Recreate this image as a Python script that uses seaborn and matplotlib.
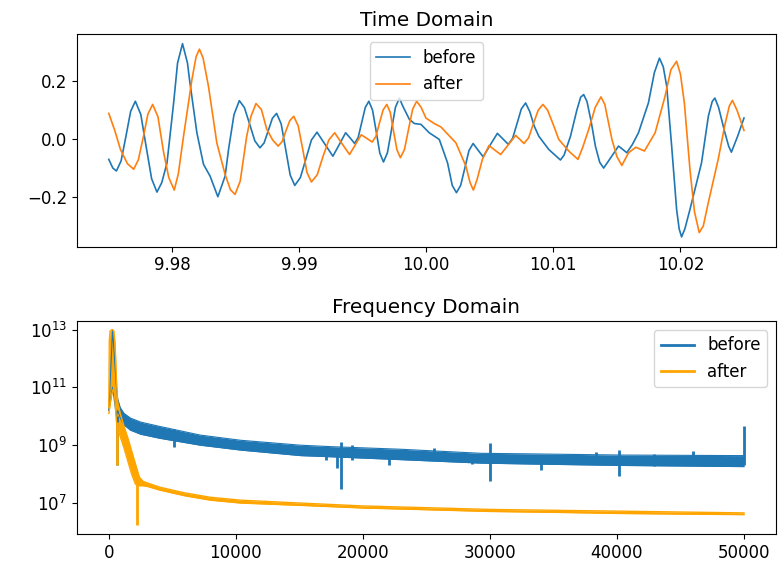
import numpy as np
import matplotlib
matplotlib.use("Agg")
import matplotlib.pyplot as plt
from matplotlib.lines import Line2D
import seaborn as sns

plt.rcParams['font.size'] = 12

# ------------------------
# Time domain samples
# ------------------------
before_t = [9.97503, 9.97535, 9.97563, 9.97600, 9.97638, 9.97675, 9.97712, 9.97755,
            9.97797, 9.97840, 9.97882, 9.97920, 9.97961, 9.98013, 9.98044, 9.98083,
            9.98122, 9.98138, 9.98196, 9.98248, 9.98300, 9.98361, 9.98418, 9.98446,
            9.98488, 9.98530, 9.98570, 9.98611, 9.98652, 9.98692, 9.98725, 9.98758,
            9.98790, 9.98823, 9.98859, 9.98895, 9.98930, 9.98966, 9.99010, 9.99054,
            9.99097, 9.99141, 9.99204, 9.99266, 9.99316, 9.99366, 9.99402, 9.99437,
            9.99465, 9.99493, 9.99521, 9.99549, 9.99578, 9.99607, 9.99635, 9.99664,
            9.99695, 9.99727, 9.99758, 9.99789, 9.99815, 9.99868, 9.99907, 9.99959,
            10.00024, 10.00103, 10.00168, 10.00205, 10.00238, 10.00271, 10.00304, 10.00336,
            10.00369, 10.00408, 10.00448, 10.00504, 10.00560, 10.00603, 10.00646, 10.00680,
            10.00714, 10.00748, 10.00782, 10.00815, 10.00850, 10.00886, 10.00965, 10.01056,
            10.01085, 10.01135, 10.01185, 10.01215, 10.01239, 10.01265, 10.01298, 10.01331,
            10.01365, 10.01396, 10.01455, 10.01513, 10.01545, 10.01578, 10.01620, 10.01670,
            10.01748, 10.01795, 10.01835, 10.01865, 10.01892, 10.01931, 10.01970, 10.01990,
            10.02009, 10.02035, 10.02075, 10.02166, 10.02220, 10.02250, 10.02271, 10.02300,
            10.02350, 10.02380, 10.02401, 10.02450, 10.02500]
before_v = [-0.070, -0.100, -0.110, -0.075, 0.010, 0.096, 0.131, 0.085,
            -0.026, -0.137, -0.183, -0.150, -0.082, 0.125, 0.263, 0.330,
            0.263, 0.206, 0.022, -0.087, -0.128, -0.199, -0.128, -0.033,
            0.085, 0.133, 0.109, 0.052, -0.006, -0.030, -0.013, 0.030,
            0.072, 0.089, 0.053, -0.036, -0.124, -0.160, -0.133, -0.068,
            -0.003, 0.024, -0.018, -0.059, -0.019, 0.022, 0.004, -0.015,
            0.006, 0.058, 0.110, 0.131, 0.100, 0.026, -0.048, -0.079,
            -0.047, 0.032, 0.110, 0.142, 0.115, 0.068, 0.054, 0.051,
            0.022, -0.001, -0.082, -0.160, -0.185, -0.160, -0.100, -0.040,
            -0.015, -0.038, -0.061, -0.020, 0.020, 0.001, -0.018, 0.003,
            0.053, 0.104, 0.125, 0.095, 0.045, 0.010, -0.036, -0.072,
            -0.055, 0.010, 0.100, 0.145, 0.154, 0.130, 0.060, -0.024,
            -0.080, -0.100, -0.062, -0.024, -0.035, -0.047, -0.020, 0.022,
            0.125, 0.230, 0.280, 0.250, 0.183, -0.024, -0.243, -0.310,
            -0.338, -0.310, -0.243, -0.082, 0.080, 0.130, 0.142, 0.110,
            0.022, -0.025, -0.045, 0.010, 0.073]

after_t = [9.97503, 9.97550, 9.97595, 9.97650, 9.97699, 9.97736, 9.97775, 9.97811,
           9.97848, 9.97890, 9.97934, 9.97975, 9.98018, 9.98050, 9.98091, 9.98157,
           9.98190, 9.98216, 9.98245, 9.98287, 9.98353, 9.98418, 9.98460, 9.98496,
           9.98537, 9.98588, 9.98620, 9.98661, 9.98704, 9.98745, 9.98792, 9.98835,
           9.98866, 9.98896, 9.98927, 9.98958, 9.98993, 9.99031, 9.99062, 9.99097,
           9.99143, 9.99188, 9.99234, 9.99280, 9.99338, 9.99397, 9.99443, 9.99489,
           9.99532, 9.99575, 9.99604, 9.99632, 9.99661, 9.99690, 9.99717, 9.99743,
           9.99770, 9.99797, 9.99829, 9.99861, 9.99893, 9.99925, 9.99960, 9.99998,
           10.00063, 10.00116, 10.00234, 10.00312, 10.00345, 10.00371, 10.00400, 10.00442,
           10.00494, 10.00540, 10.00586, 10.00645, 10.00704, 10.00737, 10.00769, 10.00806,
           10.00843, 10.00881, 10.00918, 10.00955, 10.01000, 10.01043, 10.01121, 10.01194,
           10.01230, 10.01278, 10.01330, 10.01375, 10.01405, 10.01461, 10.01500, 10.01539,
           10.01592, 10.01649, 10.01717, 10.01801, 10.01879, 10.01925, 10.01970, 10.02000,
           10.02031, 10.02075, 10.02110, 10.02148, 10.02180, 10.02219, 10.02297, 10.02350,
           10.02385, 10.02409, 10.02445, 10.02500]
after_v = [0.089, 0.030, -0.036, -0.085, -0.104, -0.071, 0.008, 0.087,
           0.120, 0.077, -0.045, -0.133, -0.176, -0.120, 0.010, 0.206,
           0.285, 0.311, 0.280, 0.183, -0.013, -0.122, -0.175, -0.191,
           -0.145, 0.010, 0.077, 0.123, 0.102, 0.035, -0.003, -0.024,
           -0.009, 0.028, 0.064, 0.079, 0.046, -0.040, -0.115, -0.148,
           -0.123, -0.060, -0.003, 0.022, -0.016, -0.053, -0.019, 0.015,
           0.003, -0.010, 0.009, 0.055, 0.101, 0.120, 0.093, 0.028,
           -0.037, -0.064, -0.036, 0.034, 0.103, 0.131, 0.110, 0.073,
           0.054, 0.042, -0.013, -0.093, -0.150, -0.176, -0.140, -0.070,
           -0.022, -0.038, -0.053, -0.020, 0.013, -0.001, -0.015, 0.005,
           0.053, 0.100, 0.120, 0.100, 0.050, -0.001, -0.041, -0.070,
           -0.030, 0.033, 0.110, 0.146, 0.120, -0.001, -0.060, -0.091,
           -0.047, -0.028, -0.041, 0.022, 0.148, 0.240, 0.269, 0.225,
           0.125, -0.105, -0.250, -0.323, -0.300, -0.220, -0.070, 0.050,
           0.115, 0.134, 0.100, 0.030]

# ------------------------
# Frequency domain envelopes (log10 of magnitude)
# ------------------------
before_f = [0, 300, 600, 700, 900, 1200, 1700, 2500, 4000, 7200, 10400,
            15100, 17500, 23000, 29300, 33200, 40300, 50000]
before_hi = [10.2, 13.0, 11.0, 10.6, 10.3, 10.1, 9.94, 9.8, 9.65, 9.35, 9.17,
             9.0, 8.95, 8.86, 8.72, 8.70, 8.66, 8.64]
before_lo = [10.2, 11.0, 10.0, 10.2, 9.95, 9.7, 9.52, 9.38, 9.24, 9.0, 8.83,
             8.64, 8.6, 8.5, 8.38, 8.35, 8.30, 8.26]

# isolated spikes in the "before" spectrum
spike_f = [660, 5130, 17070, 17980, 18300, 19110, 22050, 25590, 28610, 29980,
           34050, 38320, 40160, 42910, 46020, 50000]
spike_lo = [8.3, 8.93, 8.5, 8.2, 7.5, 8.5, 8.3, 8.6, 8.35, 7.75,
            8.15, 8.4, 7.94, 8.27, 8.4, 8.3]
spike_hi = [10.0, 9.55, 8.9, 8.9, 9.11, 9.0, 8.8, 8.9, 8.7, 9.08,
            8.6, 8.75, 8.82, 8.7, 8.8, 9.65]

after_f = [0, 40, 100, 250, 400, 500, 600, 700, 900, 1200, 1500, 1800, 2100,
           2400, 2700, 3000, 4000, 6000, 8000, 10400, 15100, 20000, 25000,
           30000, 35000, 40300, 45000, 50000]
after_hi = [10.3, 12.6, 12.95, 13.0, 12.95, 12.5, 11.3, 10.5, 10.1, 9.65, 9.25,
            8.8, 8.35, 7.9, 7.75, 7.7, 7.55, 7.35, 7.2, 7.1, 7.0, 6.9, 6.84,
            6.78, 6.75, 6.72, 6.69, 6.66]
after_lo = [10.1, 10.2, 10.4, 10.8, 11.0, 10.5, 9.8, 9.6, 9.3, 8.9, 8.45,
            8.0, 7.65, 7.6, 7.6, 7.58, 7.45, 7.25, 7.1, 7.0, 6.92, 6.83, 6.77,
            6.71, 6.68, 6.64, 6.62, 6.6]

after_spike_f = [680, 2240]
after_spike_lo = [8.3, 6.25]
after_spike_hi = [9.8, 7.9]

blue = '#1f77b4'
orange_t = '#ff7f0e'
orange_f = 'orange'

fig, (ax1, ax2) = plt.subplots(2, 1, figsize=(7.82, 5.63), dpi=100)
fig.subplots_adjust(left=0.0985, right=0.992, top=0.9396, bottom=0.0515, hspace=0.352)

# ------------------------
# Time Domain
# ------------------------
sns.lineplot(x=before_t, y=before_v, ax=ax1, color=blue, lw=1.2, label='before')
sns.lineplot(x=after_t, y=after_v, ax=ax1, color=orange_t, lw=1.2, label='after')
ax1.set_title("Time Domain")
ax1.ticklabel_format(axis='x', useOffset=False)
ax1.set_xticks([9.98, 9.99, 10.00, 10.01, 10.02])
ax1.set_yticks([-0.2, 0.0, 0.2])
ax1.legend(loc='upper center')

# ------------------------
# Frequency Domain
# ------------------------
ax2.set_yscale('log')
ax2.fill_between(before_f, 10 ** np.array(before_lo), 10 ** np.array(before_hi),
                 color=blue, lw=0)
sns.lineplot(x=before_f, y=10 ** np.array(before_hi), ax=ax2, color=blue, lw=0.8)
sns.lineplot(x=before_f, y=10 ** np.array(before_lo), ax=ax2, color=blue, lw=0.8)
ax2.vlines(spike_f, 10 ** np.array(spike_lo), 10 ** np.array(spike_hi), color=blue, lw=2)

ax2.fill_between(after_f, 10 ** np.array(after_lo), 10 ** np.array(after_hi),
                 color=orange_f, lw=0)
sns.lineplot(x=after_f, y=10 ** np.array(after_hi), ax=ax2, color=orange_f, lw=1.0)
sns.lineplot(x=after_f, y=10 ** np.array(after_lo), ax=ax2, color=orange_f, lw=1.0)
ax2.vlines(after_spike_f, 10 ** np.array(after_spike_lo), 10 ** np.array(after_spike_hi),
           color=orange_f, lw=2)

ax2.set_xlim(-2500, 52500)
ax2.set_ylim(10 ** 5.93, 10 ** 13.28)
ax2.set_yticks([1e7, 1e9, 1e11, 1e13])
ax2.set_xticks([0, 10000, 20000, 30000, 40000, 50000])
ax2.set_title("Frequency Domain")
handles = [Line2D([], [], color=blue, lw=2), Line2D([], [], color=orange_f, lw=2)]
ax2.legend(handles, ['before', 'after'], loc='upper right')

plt.savefig("out.png", dpi=100)
